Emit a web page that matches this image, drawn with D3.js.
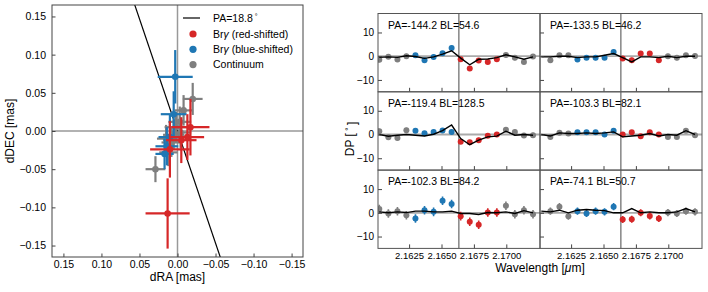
<!DOCTYPE html>
<html><head><meta charset="utf-8">
<script src="https://cdn.jsdelivr.net/npm/d3@7"></script>
<style>
body{margin:0;background:#fff}
svg{display:block}
text{font-family:"Liberation Sans",Arial,Helvetica,sans-serif;fill:#000}
</style>
</head><body>
<svg id="c" width="708" height="292"></svg>
<script>
// ---------------- DATA ----------------
// Left panel: photocentre offsets (mas)
const paDeg = 18.8;
const redRA = [-0.017, -0.013, -0.005, 0.010, 0.013];
const redDEC = [0.005, -0.008, -0.012, -0.024, -0.108];
const redErrRA = [0.025, 0.022, 0.020, 0.026, 0.029];
const redErrDEC = [0.037, 0.030, 0.030, 0.037, 0.046];

const blueRA = [0.003, 0.005, 0.010, 0.014, 0.017];
const blueDEC = [0.071, 0.022, -0.008, -0.020, -0.030];
const blueErrRA = [0.023, 0.017, 0.015, 0.015, 0.012];
const blueErrDEC = [0.035, 0.030, 0.030, 0.025, 0.020];

const contRA = [-0.020, -0.008, -0.003, 0.002, 0.005, 0.008, 0.012, 0.029, -0.004, 0.015];
const contDEC = [0.042, 0.027, 0.012, 0.005, -0.005, -0.015, -0.028, -0.050, -0.002, -0.010];
const contErrRA = [0.013, 0.012, 0.015, 0.015, 0.014, 0.013, 0.012, 0.013, 0.014, 0.012];
const contErrDEC = [0.021, 0.020, 0.020, 0.020, 0.020, 0.019, 0.018, 0.017, 0.020, 0.018];

const leftTicks = [0.15, 0.10, 0.05, 0.00, -0.05, -0.10, -0.15];

// Right panels: differential phases (deg)
const wavelengths = [2.16020, 2.16090, 2.16160, 2.16229, 2.16299, 2.16369, 2.16439, 2.16508, 2.16578,
                     2.16648, 2.16718, 2.16787, 2.16857, 2.16927, 2.16997, 2.17066, 2.17136, 2.17206];
const channelClass = ["c","c","c","c","b","b","b","b","b","r","r","r","r","r","c","c","c","c"];
const lineCentre = 2.16634;
const panelLabels = ["PA=-144.2 BL=54.6", "PA=-133.5 BL=46.2", "PA=-119.4 BL=128.5",
                     "PA=-103.3 BL=82.1", "PA=-102.3 BL=84.2", "PA=-74.1 BL=50.7"];
const dp1 = [-1.5, -0.2, -1.4, 0.0, 0.4, -1.7, -0.3, 1.2, 3.5, -1.3, -5.2, -1.8, -2.4, -1.3, 0.5, -0.7, -2.4, -0.1];
const dp2 = [null, -1.7, 0.4, 0.4, -1.4, -0.6, -0.7, -0.6, 1.8, -1.0, -1.7, 1.1, 1.1, -1.7, 0.0, -0.7, 0.4, 0.1];
const dp3 = [1.4, -1.2, -1.5, 1.8, 1.6, 0.5, 1.1, 1.7, 1.1, -3.0, -3.3, -2.4, -0.5, 0.0, 2.0, 1.1, -0.4, -0.3];
const dp4 = [null, -1.0, 0.7, 0.4, 0.9, 0.9, 0.9, 0.0, 1.6, 0.0, 0.9, -0.7, 0.9, 0.0, -1.0, -1.0, 1.6, -0.3];
const dp5 = [1.6, -0.3, 0.7, -1.0, -2.4, 1.1, 0.4, 5.1, 3.7, -1.4, -3.8, -5.0, 0.1, 0.1, 3.0, -0.6, 1.1, -0.6];
const dp6 = [null, 0.7, 2.6, -1.4, 0.7, -0.3, 0.7, 0.4, 2.6, -2.8, -2.7, 0.0, -1.3, -2.4, 0.1, -0.3, 0.7, 0.4];
const model1 = [-0.5, -0.3, -0.5, 0.2, -0.1, -0.9, -0.3, 0.9, 2.3, -0.8, -3.6, -1.3, -1.2, -0.6, 0.6, -0.3, -1.3, -0.3];
const model2 = [-0.3, -0.3, 0.0, 0.0, -0.6, -0.3, -0.3, 0.4, 1.1, -0.6, -2.4, -0.3, -0.3, -0.6, 0.0, -0.6, 0.0, 0.0];
const model3 = [0.0, -0.7, -0.3, 0.0, -0.3, -0.6, 0.1, 1.6, 4.0, -1.7, -4.3, -2.4, -1.0, -0.7, 1.4, -0.3, 0.0, -0.3];
const model4 = [0.0, -0.6, 0.7, 0.4, 0.4, 0.7, 0.4, 0.7, 1.1, -1.0, -0.6, -0.3, 0.4, -0.6, 0.0, -0.3, 1.6, 0.0];
const model5 = [0.4, 0.0, 0.4, 0.1, 0.7, 0.7, 0.4, 0.4, 0.7, -0.3, -0.3, -0.7, 0.1, 0.0, 0.4, -0.3, 0.9, 0.0];
const model6 = [0.7, 0.4, 1.1, 0.0, 1.1, 1.4, 1.1, 0.9, 0.0, 0.0, 1.8, 0.0, 0.4, 0.0, 0.0, 0.4, 1.8, 0.4];
const dpErr = [1.0, 1.0, 1.0, 0.8, 1.8, 1.5];
const dpTicks = [-10, 0, 10];
const wlTicks = [2.1625, 2.1650, 2.1675, 2.1700];

// ---------------- STYLE ----------------
const COL = {r: "#d62728", b: "#1f77b4", c: "#7f7f7f"};
const FONT = '"Liberation Sans",Arial,Helvetica,sans-serif';
const svg = d3.select("#c");
const defs = svg.append("defs");

// ---------------- LEFT PANEL ----------------
const L = {x0: 52, x1: 303, y0: 5, y1: 257};
const xL = d3.scaleLinear().domain([0.165, -0.165]).range([L.x0, L.x1]);
const yL = d3.scaleLinear().domain([0.165, -0.165]).range([L.y0, L.y1]);
defs.append("clipPath").attr("id", "clipL").append("rect")
  .attr("x", L.x0).attr("y", L.y0).attr("width", L.x1 - L.x0).attr("height", L.y1 - L.y0);
const gL = svg.append("g").attr("clip-path", "url(#clipL)");

gL.append("line").attr("x1", xL(0.165)).attr("x2", xL(-0.165)).attr("y1", yL(0)).attr("y2", yL(0))
  .attr("stroke", "#999").attr("stroke-width", 1.5);
gL.append("line").attr("x1", xL(0)).attr("x2", xL(0)).attr("y1", yL(0.165)).attr("y2", yL(-0.165))
  .attr("stroke", "#999").attr("stroke-width", 1.5);
const tanPA = Math.tan(paDeg * Math.PI / 180);
gL.append("line").attr("x1", xL(0.3 * tanPA)).attr("y1", yL(0.3))
  .attr("x2", xL(-0.3 * tanPA)).attr("y2", yL(-0.3))
  .attr("stroke", "#000").attr("stroke-width", 1.2);

function drawCross(ra, dec, era, edec, color) {
  const g = gL.append("g");
  ra.forEach((v, i) => {
    g.append("line").attr("x1", xL(v - era[i])).attr("x2", xL(v + era[i]))
      .attr("y1", yL(dec[i])).attr("y2", yL(dec[i])).attr("stroke", color).attr("stroke-width", 2.2);
    g.append("line").attr("x1", xL(v)).attr("x2", xL(v))
      .attr("y1", yL(dec[i] - edec[i])).attr("y2", yL(dec[i] + edec[i])).attr("stroke", color).attr("stroke-width", 2.2);
  });
  ra.forEach((v, i) => {
    g.append("circle").attr("cx", xL(v)).attr("cy", yL(dec[i])).attr("r", 3.3).attr("fill", color);
  });
}
drawCross(contRA, contDEC, contErrRA, contErrDEC, COL.c);
drawCross(blueRA, blueDEC, blueErrRA, blueErrDEC, COL.b);
drawCross(redRA, redDEC, redErrRA, redErrDEC, COL.r);

const fmt2 = d3.format(".2f");
function styleAxis(g, fs) {
  g.select(".domain").remove();
  g.selectAll(".tick line").attr("stroke", "#444");
  g.selectAll(".tick text").attr("font-size", fs).attr("font-family", FONT).attr("fill", "#000");
}
svg.append("g").attr("transform", `translate(0,${L.y1})`)
  .call(d3.axisBottom(xL).tickValues(leftTicks).tickFormat(fmt2).tickSize(-3.5).tickPadding(4))
  .call(g => styleAxis(g, "10.5px"));
svg.append("g").attr("transform", `translate(${L.x0},0)`)
  .call(d3.axisLeft(yL).tickValues(leftTicks).tickFormat(fmt2).tickSize(-3.5).tickPadding(6))
  .call(g => styleAxis(g, "10.5px"));
svg.append("rect").attr("x", L.x0).attr("y", L.y0).attr("width", L.x1 - L.x0).attr("height", L.y1 - L.y0)
  .attr("fill", "none").attr("stroke", "#444").attr("stroke-width", 1);

svg.append("text").attr("x", (L.x0 + L.x1) / 2).attr("y", 281).attr("text-anchor", "middle")
  .attr("font-size", "12px").text("dRA [mas]");
svg.append("text").attr("transform", `translate(10,${(L.y0 + L.y1) / 2}) rotate(-90)`)
  .attr("dy", "0.35em").attr("text-anchor", "middle").attr("font-size", "12px").text("dDEC [mas]");

// legend
const lg = svg.append("g").attr("font-size", "10.5px");
lg.append("line").attr("x1", 183).attr("x2", 200).attr("y1", 18).attr("y2", 18).attr("stroke", "#000").attr("stroke-width", 1.2);
const t0 = lg.append("text").attr("x", 213).attr("y", 18).attr("dy", "0.35em");
t0.append("tspan").text("PA=18.8");
t0.append("tspan").attr("dy", "-0.45em").attr("font-size", "7px").text(" °");
const legItems = [["r", "(red-shifted)"], ["b", "(blue-shifted)"], ["c", null]];
legItems.forEach((d, i) => {
  const y = 34 + i * 15.3;
  lg.append("circle").attr("cx", 193).attr("cy", y).attr("r", 3.6).attr("fill", COL[d[0]]);
  const t = lg.append("text").attr("x", 213).attr("y", y).attr("dy", "0.35em");
  if (d[1]) {
    t.append("tspan").text("Br");
    t.append("tspan").attr("font-style", "italic").text("γ");
    t.append("tspan").text(" " + d[1]);
  } else {
    t.text("Continuum");
  }
});

// ---------------- RIGHT PANELS ----------------
const dpSeries = [dp1, dp2, dp3, dp4, dp5, dp6];
const modelSeries = [model1, model2, model3, model4, model5, model6];
const colX = [378, 540], PW = 162;
const rowY = [13.5, 91.8, 170.1], PH = 78.3;
const fmt4 = d3.format(".4f");

dpSeries.forEach((dp, p) => {
  const row = Math.floor(p / 2), col = p % 2;
  const x0 = colX[col], y0 = rowY[row];
  const x = d3.scaleLinear().domain([2.1601, 2.1726]).range([x0, x0 + PW]);
  const y = d3.scaleLinear().domain([-15, 18]).range([y0 + PH, y0]);
  defs.append("clipPath").attr("id", "clipP" + p).append("rect")
    .attr("x", x0).attr("y", y0).attr("width", PW).attr("height", PH);
  const g = svg.append("g").attr("clip-path", `url(#clipP${p})`);
  g.append("line").attr("x1", x0).attr("x2", x0 + PW).attr("y1", y(0)).attr("y2", y(0))
    .attr("stroke", "#aaa").attr("stroke-width", 1.8);
  g.append("line").attr("x1", x(lineCentre)).attr("x2", x(lineCentre)).attr("y1", y0).attr("y2", y0 + PH)
    .attr("stroke", "#666").attr("stroke-width", 1.2);
  dp.forEach((v, i) => {
    if (v === null) return;
    const c = COL[channelClass[i]];
    g.append("line").attr("x1", x(wavelengths[i])).attr("x2", x(wavelengths[i]))
      .attr("y1", y(v - dpErr[p])).attr("y2", y(v + dpErr[p])).attr("stroke", c).attr("stroke-width", 1.6);
    g.append("circle").attr("cx", x(wavelengths[i])).attr("cy", y(v)).attr("r", 3).attr("fill", c);
  });
  const line = d3.line().x((d, i) => x(wavelengths[i])).y(d => y(d));
  g.append("path").datum(modelSeries[p]).attr("d", line).attr("fill", "none")
    .attr("stroke", "#000").attr("stroke-width", 1.4);

  // axes
  const ax = d3.axisBottom(x).tickValues(wlTicks).tickSize(-4).tickPadding(3.5)
    .tickFormat(row === 2 ? fmt4 : "");
  svg.append("g").attr("transform", `translate(0,${y0 + PH})`).call(ax).call(gg => styleAxis(gg, "9.5px"));
  const ay = d3.axisLeft(y).tickValues(dpTicks).tickSize(-4).tickPadding(4)
    .tickFormat(col === 0 ? d3.format("d") : "");
  svg.append("g").attr("transform", `translate(${x0},0)`).call(ay).call(gg => styleAxis(gg, "10px"));
  svg.append("rect").attr("x", x0).attr("y", y0).attr("width", PW).attr("height", PH)
    .attr("fill", "none").attr("stroke", "#555").attr("stroke-width", 1);
  svg.append("text").attr("x", x0 + 10).attr("y", y0 + 11.5).attr("dy", "0.35em")
    .attr("font-size", "10.5px").text(panelLabels[p]);
});

svg.append("text").attr("x", 540).attr("y", 271.5).attr("text-anchor", "middle").attr("font-size", "12px")
  .call(t => {
    t.append("tspan").text("Wavelength [");
    t.append("tspan").attr("font-style", "italic").text("μ");
    t.append("tspan").text("m]");
  });
const dpl = svg.append("text").attr("transform", "translate(350,139) rotate(-90)").attr("dy", "0.35em")
  .attr("text-anchor", "middle").attr("font-size", "12px");
dpl.append("tspan").text("DP [\u2009");
dpl.append("tspan").attr("dy", "-0.4em").attr("font-size", "8px").text("°");
dpl.append("tspan").attr("dy", "0.4em").text("\u2009]");
</script>
</body></html>
